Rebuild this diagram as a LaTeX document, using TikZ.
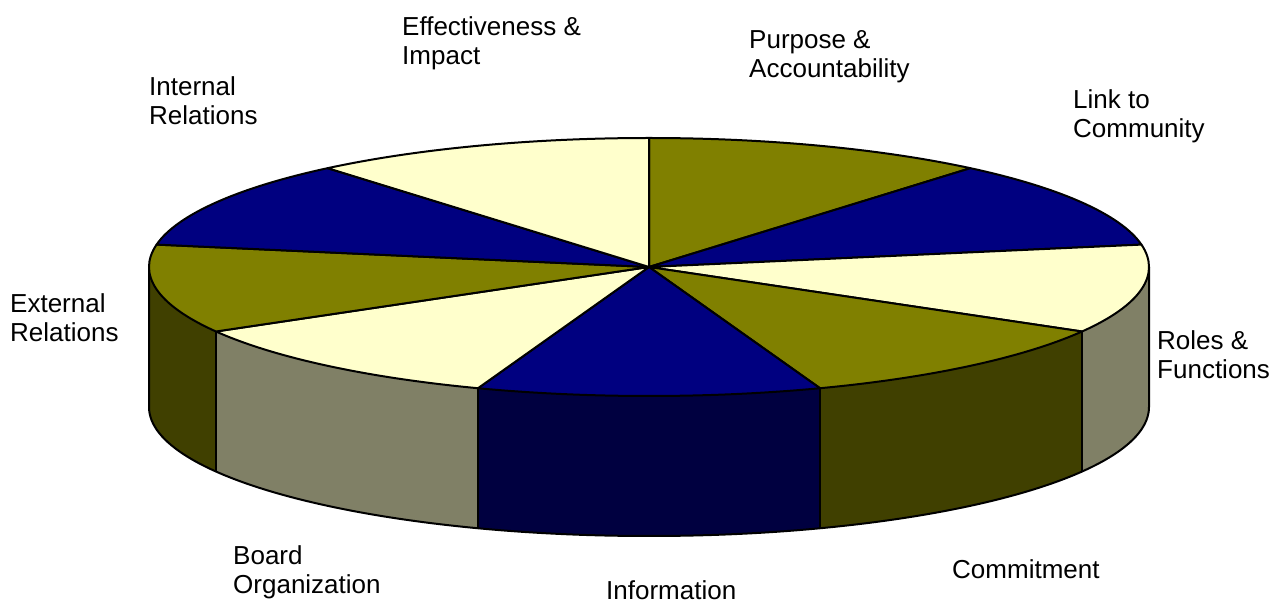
\documentclass[tikz,border=0pt]{standalone}
\usepackage{fontspec}
\setmainfont{Liberation Sans}
\definecolor{olivetop}{RGB}{128,128,0}
\definecolor{navytop}{RGB}{0,0,128}
\definecolor{creamtop}{RGB}{255,255,204}
\definecolor{oliveside}{RGB}{64,64,0}
\definecolor{navyside}{RGB}{0,0,64}
\definecolor{creamside}{RGB}{128,128,102}
% disc: radii 500pt x 129pt, rim height 140pt
\newcommand\pieside[3]{%
  \fill[#3] (C) ++(#1:500pt and 129pt)
    arc[start angle=#1,end angle=#2,x radius=500pt,y radius=129pt]
    -- ++(0,-140pt)
    arc[start angle=#2,end angle=#1,x radius=500pt,y radius=129pt] -- cycle;}
\newcommand\pietop[3]{%
  \filldraw[rim,fill=#3] (C) -- ++(#1:500pt and 129pt)
    arc[start angle=#1,end angle=#2,x radius=500pt,y radius=129pt] -- cycle;}
\newcommand\twolines[2]{\vtop{\hbox{#1}\hbox{#2}}}
\begin{document}
\begin{tikzpicture}[x=1pt,y=1pt,
  rim/.style={draw=black,line width=2pt,line join=round},
  lbl/.style={anchor=base west,inner sep=0pt,font=\fontsize{26}{29}\selectfont}]
\useasboundingbox (0,0) rectangle (1275,600);
\coordinate (C) at (649,333);

% visible rim of the disc
\pieside{-30}{0}{creamside}
\pieside{-70}{-30}{oliveside}
\pieside{-110}{-70}{navyside}
\pieside{-150}{-110}{creamside}
\pieside{-180}{-150}{oliveside}
\draw[rim] (C) ++(180:500pt and 129pt) -- ++(0,-140pt)
  arc[start angle=180,end angle=360,x radius=500pt,y radius=129pt] -- ++(0,140pt);
\foreach \a in {-30,-70,-110,-150}
  \draw[rim] (C) ++(\a:500pt and 129pt) -- ++(0,-140pt);

% top face, nine equal wedges
\pietop{50}{90}{olivetop}
\pietop{10}{50}{navytop}
\pietop{-30}{10}{creamtop}
\pietop{-70}{-30}{olivetop}
\pietop{-110}{-70}{navytop}
\pietop{-150}{-110}{creamtop}
\pietop{170}{210}{olivetop}
\pietop{130}{170}{navytop}
\pietop{90}{130}{creamtop}

% wedge labels
\node[lbl] (effect) at (402,564) {\twolines{Effectiveness \&}{Impact}};
\node[lbl] (purpose) at (749,551) {\twolines{Purpose \&}{Accountability}};
\node[lbl] (internal) at (149,504) {\twolines{Internal}{Relations}};
\node[lbl] (link) at (1073,491) {\twolines{Link to}{Community}};
\node[lbl] (external) at (10,287) {\twolines{External}{Relations}};
\node[lbl] (roles) at (1157,250) {\twolines{Roles \&}{Functions}};
\node[lbl] (board) at (233,35) {\twolines{Board}{Organization}};
\node[lbl] (commit) at (952,21) {Commitment};
\node[lbl] (info) at (606,1) {Information};
\end{tikzpicture}
\end{document}
